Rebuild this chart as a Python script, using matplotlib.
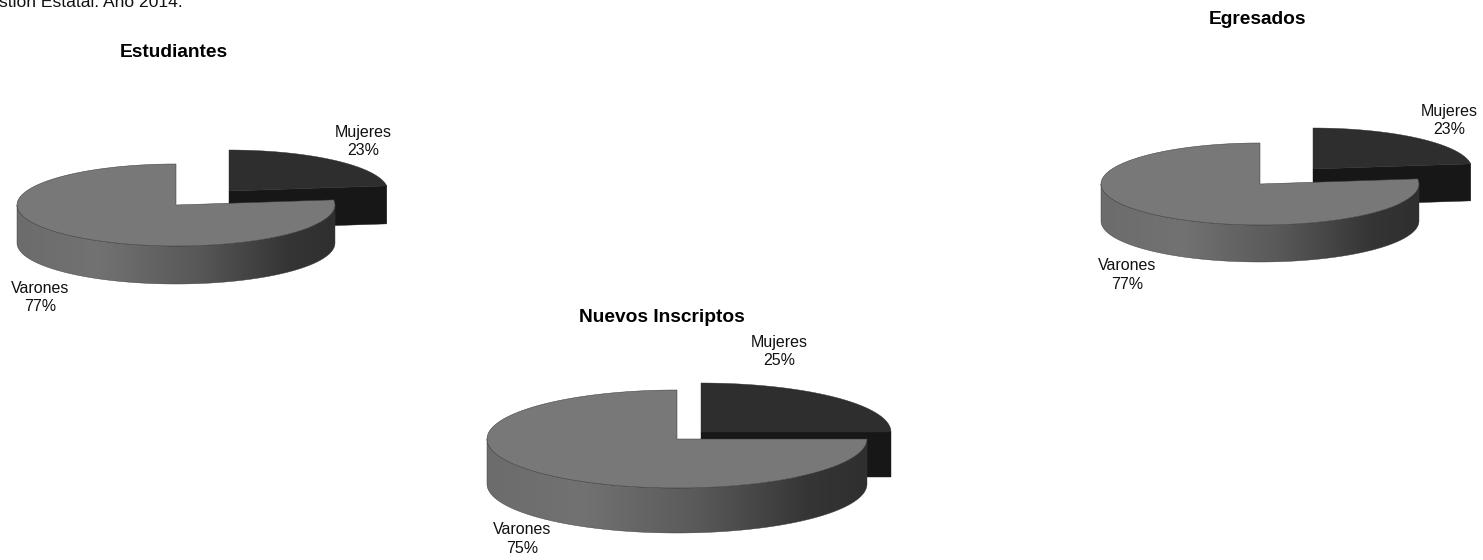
import numpy as np
import matplotlib
matplotlib.use('Agg')
import matplotlib.pyplot as plt
from matplotlib.colors import LinearSegmentedColormap
from matplotlib.patches import Polygon

plt.rcParams['font.family'] = ['Liberation Sans', 'DejaVu Sans']

# Data
titles = ['Estudiantes', 'Nuevos Inscriptos', 'Egresados']
categories = ['Varones', 'Mujeres']
varones = [77, 75, 77]
mujeres = [23, 25, 23]
caption = 'stión Estatal. Año 2014.'

# Layout, in pixels of the 1483x560 picture
centers = [(176, 205), (677, 439), (1260, 184)]
mujeres_centers = [(229, 191), (701, 432), (1313, 169)]
radii = [(159, 41), (190, 49), (159, 41)]
depths = [38, 45, 37]
title_pos = [(174, 52.5), (662, 317.5), (1258, 19.5)]
varones_label_pos = [(40, 297.5), (522, 539), (1127, 275)]
mujeres_label_pos = [(363, 141.5), (779.5, 351.5), (1449, 120.5)]

TOP_GREY = '#787878'
TOP_DARK = '#2e2e2e'
WALL_DARK = '#171717'
EDGE = '#3a3a3a'
side_cmap = LinearSegmentedColormap.from_list(
    'side', [(0, '#6c6c6c'), (0.25, '#727272'), (0.55, '#5a5a5a'), (0.85, '#353535'), (1, '#2f2f2f')])


def ellipse_points(cx, cy, rx, ry, start, end, n=200):
    t = np.radians(np.linspace(start, end, n))
    return np.column_stack([cx + rx * np.cos(t), cy - ry * np.sin(t)])


def draw_pie(ax, men, women, center, women_center, radius, depth):
    rx, ry = radius
    # Mujeres runs clockwise from 12 o'clock, Varones fills the rest
    women_start = 90 - 360 * women / (men + women)

    # exploded slice goes first, the big one covers part of its wall
    wx, wy = women_center
    rim = ellipse_points(wx, wy, rx, ry, women_start, 90)
    corner = rim[0]
    wall = [(wx, wy), tuple(corner), (corner[0], corner[1] + depth), (wx, wy + depth)]
    ax.add_patch(Polygon(wall, closed=True, fc=WALL_DARK, ec=WALL_DARK, lw=0.3))
    ax.add_patch(Polygon(np.vstack([[wx, wy], rim]), closed=True, fc=TOP_DARK, ec=TOP_DARK, lw=0.3))

    # side wall of the big slice with its left-right shading
    cx, cy = center
    lower = ellipse_points(cx, cy + depth, rx, ry, 180, 360)
    upper = ellipse_points(cx, cy, rx, ry, 360, 180)
    side = Polygon(np.vstack([lower, upper]), closed=True, fc='none', ec=EDGE, lw=0.3)
    ax.add_patch(side)
    shade = ax.imshow(np.linspace(0, 1, 256).reshape(1, -1), cmap=side_cmap, aspect='auto',
                      extent=[cx - rx, cx + rx, cy + ry + depth, cy - ry], zorder=1)
    shade.set_clip_path(side)
    side.set_zorder(1.1)

    top = ellipse_points(cx, cy, rx, ry, 90, 360 + women_start)
    ax.add_patch(Polygon(np.vstack([[cx, cy], top]), closed=True, fc=TOP_GREY, ec=EDGE, lw=0.35, zorder=1.2))


fig = plt.figure(figsize=(14.83, 5.60), dpi=100)
ax = fig.add_axes([0, 0, 1, 1])

for i in range(len(titles)):
    draw_pie(ax, varones[i], mujeres[i], centers[i], mujeres_centers[i], radii[i], depths[i])
    ax.text(*title_pos[i], titles[i], fontsize=13.8, fontweight='bold', ha='center', va='center')
    ax.text(*varones_label_pos[i], f'{categories[0]}\n{varones[i]}%', fontsize=11.5,
            ha='center', va='center', linespacing=1.26, color='#111111')
    ax.text(*mujeres_label_pos[i], f'{categories[1]}\n{mujeres[i]}%', fontsize=11.5,
            ha='center', va='center', linespacing=1.26, color='#111111')

# caption is cut by the top edge, same as the source picture
ax.text(-1, 7, caption, fontsize=12.6, ha='left', va='baseline', color='#111111')

ax.set_xlim(0, 1483)
ax.set_ylim(560, 0)
ax.axis('off')
fig.savefig('out.png', dpi=100, facecolor='white')
